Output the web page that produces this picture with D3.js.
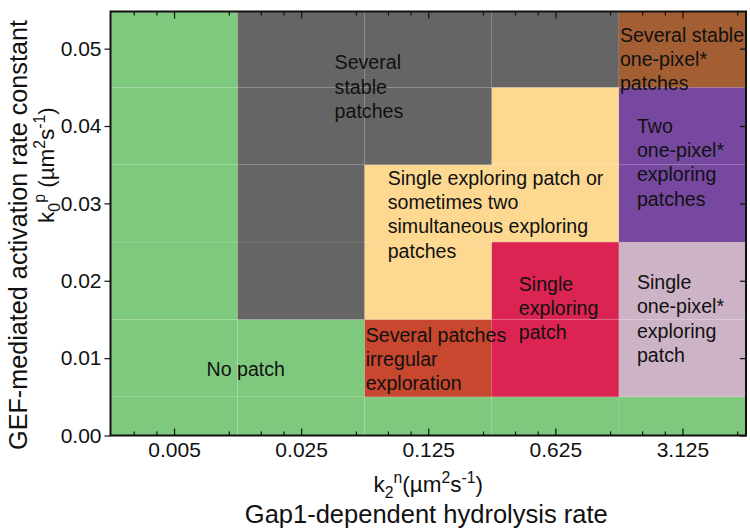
<!DOCTYPE html>
<html><head><meta charset="utf-8">
<script src="https://cdn.jsdelivr.net/npm/d3@7"></script>
<style>body{margin:0;background:#fff}svg{display:block}</style>
</head><body><svg id="c" width="750" height="528"></svg>
<script>
// ---- data ----
const xValues = [0.005, 0.025, 0.125, 0.625, 3.125];
const xTickLabels = ["0.005", "0.025", "0.125", "0.625", "3.125"];
const xMinorTicks = [0.003, 0.004, 0.01, 0.015, 0.02, 0.05, 0.075, 0.1, 0.25, 0.375, 0.5, 1.25, 1.875, 2.5, 6.25];
const yValues = [0, 0.01, 0.02, 0.03, 0.04, 0.05];
const yTickLabels = ["0.00", "0.01", "0.02", "0.03", "0.04", "0.05"];
const regimes = [
  "No patch",
  "Several stable patches",
  "Single exploring patch or sometimes two simultaneous exploring patches",
  "Several patches irregular exploration",
  "Single exploring patch",
  "Several stable one-pixel* patches",
  "Two one-pixel* exploring patches",
  "Single one-pixel* exploring patch"
];
// regime index for each cell: rows follow yValues (bottom to top), columns follow xValues
const regimeGrid = [
  [0, 0, 0, 0, 0],
  [0, 0, 3, 4, 7],
  [0, 1, 2, 4, 7],
  [0, 1, 2, 2, 6],
  [0, 1, 1, 2, 6],
  [0, 1, 1, 1, 5]
];
const regimeLines = [
  ["No patch"],
  ["Several", "stable", "patches"],
  ["Single exploring patch or", "sometimes two", "simultaneous exploring", "patches"],
  ["Several patches", "irregular", "exploration"],
  ["Single", "exploring", "patch"],
  ["Several stable", "one-pixel*", "patches"],
  ["Two", "one-pixel*", "exploring", "patches"],
  ["Single", "one-pixel*", "exploring", "patch"]
];

// ---- styles / layout ----
const regimeColors = ["#7fc97f", "#656565", "#fdd891", "#c8472f", "#dc2453", "#a45e33", "#7648a0", "#cdb3c6"];
// label anchor: [column index, pixel offset from column left edge, y value of first line centre]
const labelAnchors = [
  [0, 96, 0.0086],
  [1, 97, 0.0482],
  [2, 23, 0.0333],
  [2, 1, 0.0130],
  [3, 27, 0.0196],
  [4, 1, 0.0518],
  [4, 18, 0.0400],
  [4, 18, 0.0198]
];
const pLeft = 110.5, pRight = 746, pTop = 11.5, pBottom = 435.5;
const yMax = 0.0548;
const FONT = "'Liberation Sans', Arial, Helvetica, sans-serif";
const s5 = Math.sqrt(5);

const svg = d3.select("#c");
const x = d3.scaleLog().base(5).domain([xValues[0] / s5, xValues[xValues.length - 1] * s5]).range([pLeft, pRight]);
const y = d3.scaleLinear().domain([0, yMax]).range([pBottom, pTop]);
const halfRow = (yValues[1] - yValues[0]) / 2;

// cells
const cells = [];
regimeGrid.forEach((row, r) => row.forEach((k, c) => cells.push({r, c, k})));
svg.append("g").selectAll("rect").data(cells).join("rect")
  .attr("x", d => x(xValues[d.c] / s5))
  .attr("width", d => x(xValues[d.c] * s5) - x(xValues[d.c] / s5))
  .attr("y", d => y(Math.min(yMax, yValues[d.r] + halfRow)))
  .attr("height", d => y(Math.max(0, yValues[d.r] - halfRow)) - y(Math.min(yMax, yValues[d.r] + halfRow)))
  .attr("fill", d => regimeColors[d.k])
  .attr("stroke", "rgba(255,255,255,0.06)")
  .attr("stroke-width", 1);

// labels
const lh = 24.3;
const lab = svg.append("g").attr("font-family", FONT).attr("font-size", 19.6).attr("fill", "#111");
regimeLines.forEach((lines, i) => {
  const a = labelAnchors[i];
  const x0 = x(xValues[a[0]] / s5) + a[1];
  const y0 = y(a[2]);
  lines.forEach((ln, j) => {
    lab.append("text").attr("x", x0).attr("y", y0 + j * lh).attr("dy", "0.35em").text(ln);
  });
});

// axes
const axB = svg.append("g").attr("transform", `translate(0,${pBottom})`)
  .call(d3.axisBottom(x).tickValues(xValues).tickFormat((d, i) => xTickLabels[i]).tickSizeInner(-7).tickSizeOuter(0).tickPadding(7));
const axBm = svg.append("g").attr("transform", `translate(0,${pBottom})`)
  .call(d3.axisBottom(x).tickValues(xMinorTicks).tickFormat("").tickSizeInner(-4).tickSizeOuter(0));
const axT = svg.append("g").attr("transform", `translate(0,${pTop})`)
  .call(d3.axisTop(x).tickValues(xValues).tickFormat("").tickSizeInner(-7).tickSizeOuter(0));
const axTm = svg.append("g").attr("transform", `translate(0,${pTop})`)
  .call(d3.axisTop(x).tickValues(xMinorTicks).tickFormat("").tickSizeInner(-4).tickSizeOuter(0));
const axL = svg.append("g").attr("transform", `translate(${pLeft},0)`)
  .call(d3.axisLeft(y).tickValues(yValues).tickFormat((d, i) => yTickLabels[i]).tickSizeInner(6).tickSizeOuter(0).tickPadding(3));
const axR = svg.append("g").attr("transform", `translate(${pRight},0)`)
  .call(d3.axisRight(y).tickValues(yValues).tickFormat("").tickSizeInner(-6).tickSizeOuter(0));
[axB, axBm, axT, axTm, axL, axR].forEach(g => {
  g.select(".domain").remove();
  g.selectAll("line").attr("stroke", "#111").attr("stroke-width", 1.2);
  g.selectAll("text").attr("font-family", FONT).attr("font-size", 21).attr("fill", "#111");
});

// frame
svg.append("rect").attr("x", pLeft).attr("y", pTop).attr("width", pRight - pLeft).attr("height", pBottom - pTop)
  .attr("fill", "none").attr("stroke", "#111").attr("stroke-width", 2);

// axis titles
function richText(g, parts, size) {
  const t = g.append("text").attr("font-family", FONT).attr("font-size", size).attr("fill", "#111").attr("text-anchor", "middle");
  let shift = 0;
  parts.forEach(p => {
    const target = p[1] === "sub" ? 0.28 * size : p[1] === "sup" ? -0.42 * size : 0;
    t.append("tspan").attr("dy", target - shift).attr("font-size", p[1] ? size * 0.7 : size).text(p[0]);
    shift = target;
  });
  return t;
}
const gx = svg.append("g").attr("transform", `translate(${(pLeft + pRight) / 2},492)`);
richText(gx, [["k"], ["2", "sub"], ["n", "sup"], ["(µm"], ["2", "sup"], ["s"], ["-1", "sup"], [")"]], 22.5);
svg.append("text").attr("x", (pLeft + pRight) / 2 - 2).attr("y", 523).attr("text-anchor", "middle")
  .attr("font-family", FONT).attr("font-size", 25.5).attr("fill", "#111").text("Gap1-dependent hydrolysis rate");
svg.append("text").attr("transform", "translate(27,235) rotate(-90)").attr("text-anchor", "middle")
  .attr("font-family", FONT).attr("font-size", 25.2).attr("fill", "#111").text("GEF-mediated activation rate constant");
const gy = svg.append("g").attr("transform", "translate(54,165) rotate(-90)");
richText(gy, [["k"], ["0", "sub"], ["p", "sup"], [" (µm"], ["2", "sup"], ["s"], ["-1", "sup"], [")"]], 22.5);
</script>
</body></html>
